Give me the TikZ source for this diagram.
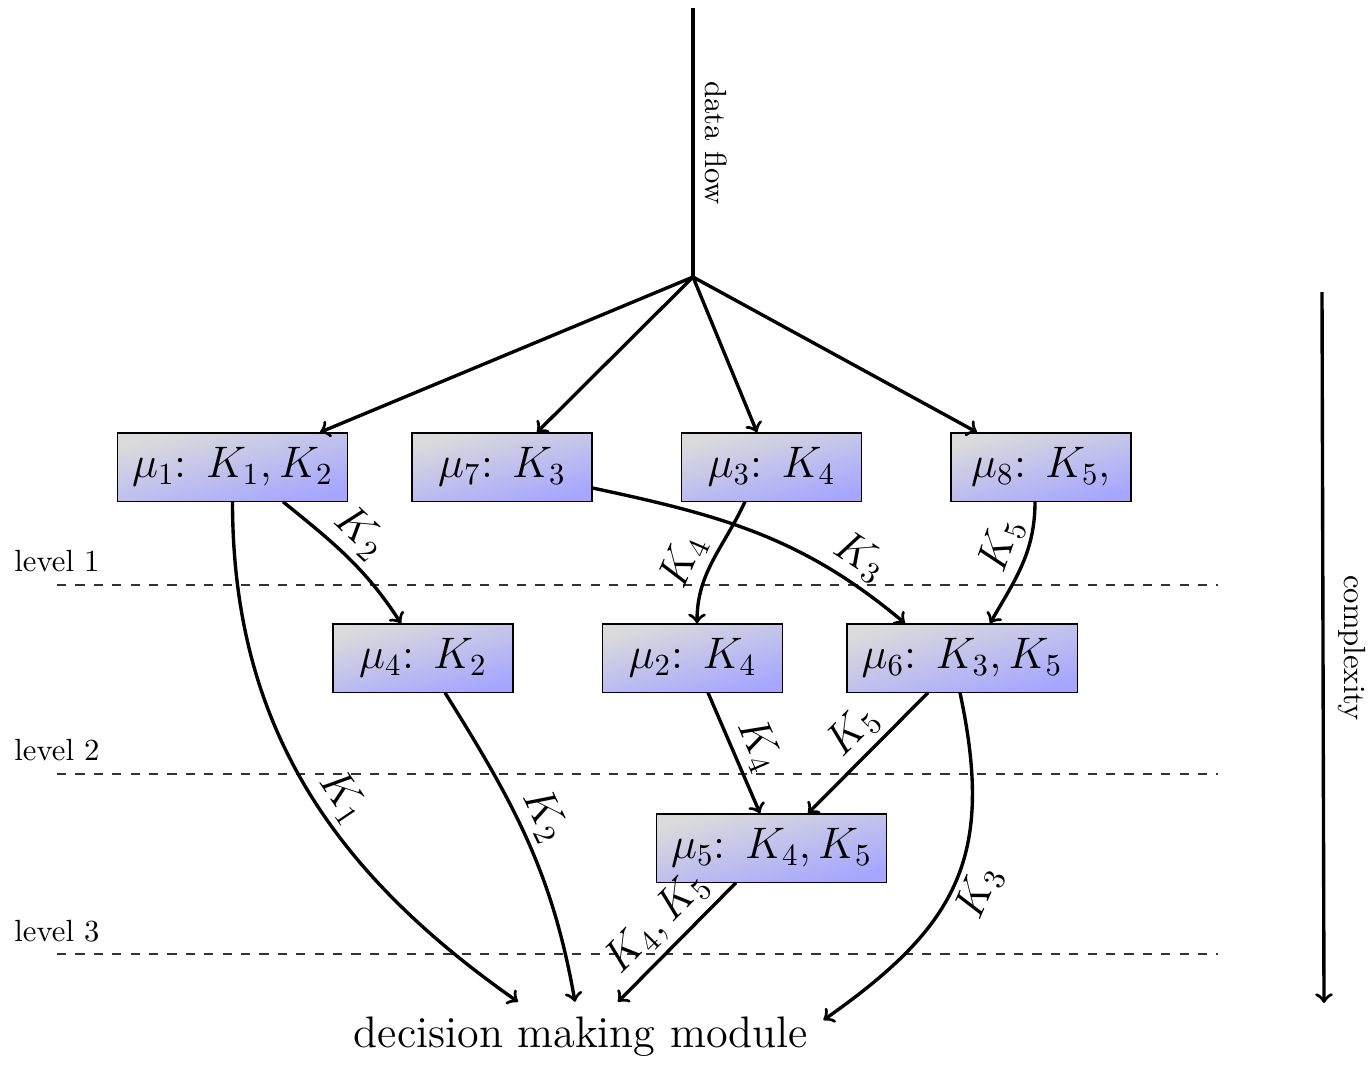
\documentclass[tikz,border=0pt]{standalone}
\usetikzlibrary{calc}
\begin{document}
\begin{tikzpicture}[x=0.011455cm, y=0.011455cm,
  mbox/.style={draw=black, top color=gray!28, bottom color=blue!35, shading angle=15,
    minimum width=2.062cm, minimum height=0.779cm, inner sep=4.8pt, font=\Large},
  flow/.style={line width=1.1pt, ->},
  lab/.style={font=\Large, sloped, inner sep=2pt},
  lvl/.style={font=\normalsize}]
\path[use as bounding box] (0,0) rectangle (1372,-1065);

% level lines
\coordinate (l1a) at (57,-585); \coordinate (l1b) at (1218,-585);
\coordinate (l2a) at (57,-774); \coordinate (l2b) at (1218,-774);
\coordinate (l3a) at (57,-954); \coordinate (l3b) at (1218,-954);
\draw[dashed, black!80] (l1a) -- (l1b);
\draw[dashed, black!80] (l2a) -- (l2b);
\draw[dashed, black!80] (l3a) -- (l3b);
\node[lvl] (lv1) at (57,-561) {level 1};
\node[lvl] (lv2) at (57,-750) {level 2};
\node[lvl] (lv3) at (57,-931) {level 3};

% modules
\node[mbox] (m1) at (232.5,-467) {$\mu_1$: $K_1, K_2$};
\node[mbox] (m7) at (502,-467) {$\mu_7$: $K_3$};
\node[mbox] (m3) at (771.5,-467) {$\mu_3$: $K_4$};
\node[mbox] (m8) at (1041,-467) {$\mu_8$: $K_5$,};
\node[mbox] (m4) at (423,-658) {$\mu_4$: $K_2$};
\node[mbox] (m2) at (692.5,-658) {$\mu_2$: $K_4$};
\node[mbox] (m6) at (962,-658) {$\mu_6$: $K_3, K_5$};
\node[mbox] (m5) at (771.5,-848) {$\mu_5$: $K_4, K_5$};
\node[font=\Large, inner sep=4.8pt] (dec) at (581,-1037) {decision making module};

% data flow
\coordinate (top) at (693,-8);
\coordinate (j) at (693,-277);
\draw[line width=1.1pt] (top) -- (j);
\node[rotate=-90] (df) at (716,-143) {data flow};
\draw[flow] (j) -- ($(m1.north)+(87.5,0)$);
\draw[flow] (j) -- ($(m7.north)+(35,0)$);
\draw[flow] (j) -- ($(m3.north)+(-14.5,0)$);
\draw[flow] (j) -- ($(m8.north)+(-64,0)$);

% complexity
\coordinate (ca) at (1322,-292);
\coordinate (cb) at (1324,-1003);
\draw[flow] (ca) -- (cb);
\node[rotate=-90] (cx) at (1352,-648) {complexity};

% connections
\draw[flow] ($(m1.south)+(50.5,0)$) to[out=-39,in=123] node[lab,above,pos=0.45]{$K_2$} ($(m4.north)+(-22,0)$);
\draw[flow] (m1.south) to[out=-90,in=145] node[lab,above,pos=0.55]{$K_1$} ($(dec.north)+(-63,0)$);
\draw[flow] ($(m4.south)+(22,0)$) to[out=-58,in=100] node[lab,above,pos=0.45]{$K_2$} ($(dec.north)+(-6,0)$);
\draw[flow] ($(m7.east)+(0,-21)$) to[out=-12,in=140] node[lab,above,pos=0.8]{$K_3$} ($(m6.north)+(-57,0)$);
\draw[flow] ($(m3.south)+(-26.5,0)$) to[out=-115,in=90] node[lab,above,pos=0.6]{$K_4$} ($(m2.north)+(4.5,0)$);
\draw[flow] ($(m8.south)+(-6,0)$) to[out=-90,in=60] node[lab,above,pos=0.4]{$K_5$} ($(m6.north)+(28,0)$);
\draw[flow] ($(m2.south)+(15.5,0)$) -- node[lab,above,pos=0.52]{$K_4$} ($(m5.north)+(-11.5,0)$);
\draw[flow] ($(m6.south)+(-34,0)$) -- node[lab,above,pos=0.47]{$K_5$} ($(m5.north)+(36.5,0)$);
\draw[flow] ($(m6.south)+(-2,0)$) to[out=-78,in=35,looseness=1.2] node[lab,below,pos=0.5]{$K_3$} ($(dec.east)+(0,17)$);
\draw[flow] ($(m5.south)+(-35.5,0)$) -- node[lab,above,pos=0.5]{$K_4, K_5$} ($(dec.north)+(37,0)$);
\end{tikzpicture}
\end{document}
